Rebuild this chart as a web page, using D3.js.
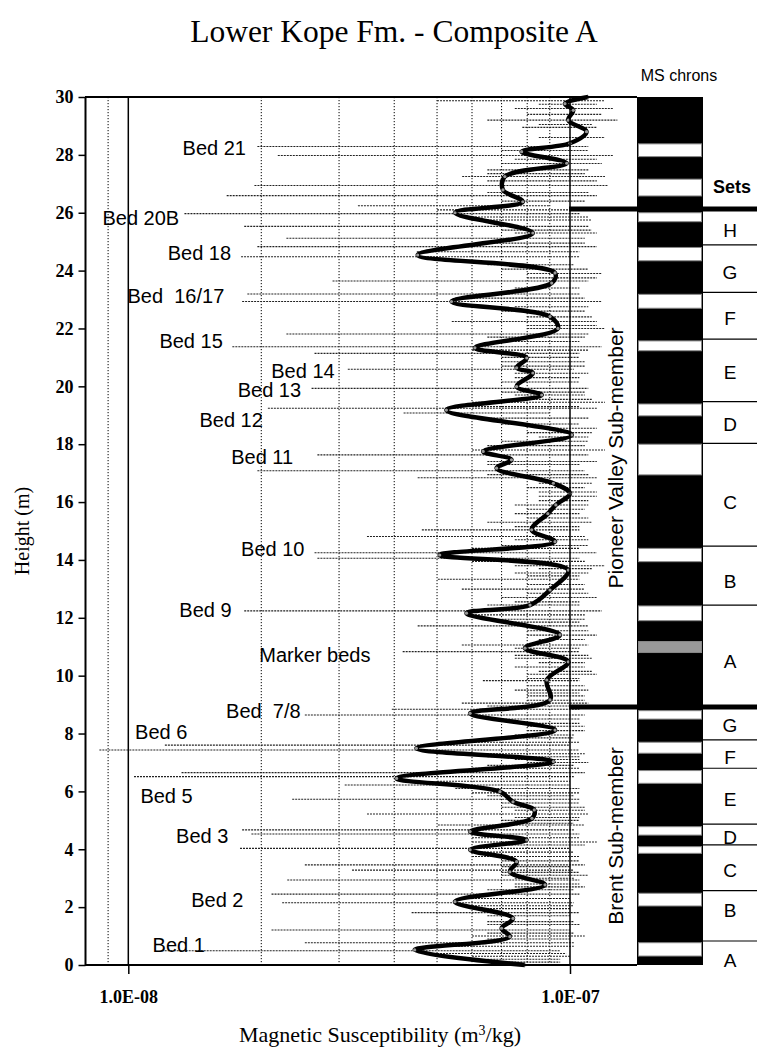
<!DOCTYPE html>
<html>
<head>
<meta charset="utf-8">
<script src="https://cdn.jsdelivr.net/npm/d3@7"></script>
<style>
  body { margin: 0; background: #fff; }
</style>
</head>
<body>
<div id="chart"></div>
<script>
// smoothed MS curve, values in units of 1E-08 m3/kg
const curveHeight = [30.0, 29.77, 29.54, 29.2, 28.8, 28.4, 28.11, 27.71, 27.25, 26.79, 26.38, 26.0, 25.3, 24.54,
  23.92, 23.57, 22.93, 22.41, 22.0, 21.33, 20.98, 20.64, 20.46, 19.99, 19.7, 19.18, 18.32, 17.75, 17.46, 17.17,
  16.65, 16.3, 15.9, 15.6, 15.04, 14.63, 14.17, 13.65, 12.96, 12.44, 12.16, 11.41, 10.95, 10.48, 9.85, 9.16,
  8.70, 8.12, 7.49, 7.03, 6.45, 5.99, 5.64, 5.36, 5.07, 4.61, 4.32, 3.98, 3.57, 3.22, 2.77, 2.19, 1.61, 1.27,
  0.98, 0.52, 0.0];
const curveMS = [11.0, 9.74, 10.17, 9.91, 10.9, 10.0, 7.77, 9.83, 7.12, 7.05, 7.82, 5.49, 8.24, 4.52,
  9.25, 9.09, 5.39, 9.01, 9.39, 6.09, 7.98, 7.57, 8.24, 7.57, 8.63, 5.25, 10.09, 6.36, 7.37, 6.82,
  9.17, 10.0, 9.29, 8.91, 8.19, 9.25, 5.07, 9.91, 9.01, 8.12, 5.83, 9.49, 7.91, 9.91, 8.86, 9.01,
  5.94, 9.25, 4.49, 9.17, 4.05, 6.94, 7.43, 8.3, 8.2, 5.94, 7.98, 5.94, 7.57, 7.31, 8.78, 5.49, 7.43, 7.0,
  7.31, 4.45, 7.91];

// raw measurements: height, lowest and highest reading of each spike (1E-08 m3/kg)
const spikeHeight = [29.87, 29.6, 29.2, 28.95, 28.29, 27.98, 27.7, 27.48, 27.25, 26.94, 26.59, 26.4, 26.24, 25.97,
  25.75, 25.53, 25.3, 25.12, 24.83, 24.48, 24.2, 23.9, 23.64, 23.4, 23.19, 22.93, 22.6, 22.24, 22.0, 21.81,
  21.55, 21.37, 21.14, 20.85, 20.59, 20.3, 19.93, 19.7, 19.45, 19.24, 19.08, 18.7, 18.4, 18.1, 17.8, 17.63,
  17.4, 17.08, 16.84, 16.5, 16.2, 15.9, 15.6, 15.3, 15.04, 14.81, 14.5, 14.25, 14.06, 13.8, 13.55, 13.33,
  12.99, 12.7, 12.44, 12.24, 11.95, 11.72, 11.4, 11.06, 10.83, 10.6, 10.3, 10.05, 9.83, 9.5, 9.3, 9.05,
  8.84, 8.64, 8.35, 8.1, 7.85, 7.6, 7.43, 7.2, 7.0, 6.8, 6.65, 6.51, 6.22, 5.95, 5.73, 5.45, 5.22, 5.0,
  4.84, 4.67, 4.53, 4.25, 4.03, 3.75, 3.46, 3.28, 3.1, 2.94, 2.7, 2.45, 2.15, 1.95, 1.81, 1.5, 1.21, 1.0,
  0.77, 0.49, 0.3, 0.1];
const spikeLow = [5.0, 7.5, 6.5, 7.8, 1.96, 2.18, 7.0, 6.5, 5.7, 1.93, 1.67, 7.0, 3.31, 1.34,
  6.0, 1.83, 7.5, 2.28, 1.96, 1.8, 6.5, 8.0, 2.9, 7.5, 1.86, 1.81, 7.0, 5.4, 8.0, 2.28,
  7.5, 1.72, 2.64, 7.0, 3.14, 7.5, 2.6, 7.5, 6.0, 2.07, 4.2, 7.0, 8.0, 7.0, 6.0, 2.68,
  6.5, 1.96, 4.52, 8.0, 8.5, 7.5, 7.5, 6.5, 4.62, 3.47, 7.0, 2.64, 2.68, 7.5, 7.5, 5.02,
  5.69, 7.0, 6.5, 1.83, 7.0, 4.52, 8.0, 5.69, 4.18, 7.5, 7.5, 8.0, 6.35, 7.5, 8.0, 5.69,
  3.95, 2.51, 7.5, 8.0, 7.0, 1.21, 0.86, 6.5, 8.0, 6.0, 1.32, 1.03, 3.09, 6.0, 2.35, 7.0, 3.47, 7.0,
  5.02, 1.81, 1.9, 6.0, 1.79, 6.0, 2.51, 3.21, 7.0, 2.29, 7.5, 2.11, 2.23, 6.0, 4.38, 6.5, 2.11, 6.0,
  2.51, 1.19, 6.0, 6.5];
const spikeHigh = [12.0, 12.5, 12.8, 11.5, 11.0, 12.5, 11.8, 11.0, 12.0, 12.2, 11.5, 10.8, 9.0, 10.5,
  11.2, 11.0, 11.5, 10.8, 11.5, 10.5, 10.2, 11.8, 11.0, 10.5, 10.5, 11.8, 10.8, 11.5, 12.0, 11.0,
  10.5, 11.8, 10.5, 10.8, 10.2, 10.5, 11.0, 10.8, 12.0, 11.5, 9.0, 10.5, 11.2, 11.0, 12.0, 11.0,
  11.5, 10.8, 11.5, 10.8, 11.5, 11.0, 10.5, 11.2, 10.5, 10.8, 11.0, 11.5, 10.5, 12.0, 11.0, 10.5,
  10.8, 11.5, 10.5, 11.8, 10.8, 11.0, 11.5, 11.0, 10.5, 11.2, 10.8, 11.5, 10.5, 11.0, 10.8, 11.0,
  10.5, 10.8, 10.5, 10.8, 10.2, 10.0, 10.5, 10.5, 11.0, 10.5, 10.8, 10.2, 10.0, 10.5, 10.5, 10.8, 11.0, 10.5,
  10.8, 10.2, 10.5, 11.5, 10.0, 10.5, 10.8, 10.2, 11.0, 10.5, 10.8, 10.5, 10.2, 10.0, 10.5, 10.2, 10.0, 10.8,
  10.2, 9.5, 10.0, 9.5];

// shorter readings packed around the curve: height, low, high (1E-08 m3/kg)
const minorHeight = [29.75, 29.4, 29.05, 28.6, 28.15, 27.85, 27.35, 27.1, 26.7, 26.1, 25.85, 25.4, 24.95, 24.65,
  24.05, 23.75, 23.05, 22.75, 22.4, 22.1, 21.7, 21.25, 21.0, 20.7, 20.45, 20.15, 19.8, 19.55, 19.3, 18.9,
  18.55, 18.25, 17.95, 17.3, 16.95, 16.65, 16.35, 16.05, 15.75, 15.45, 15.15, 14.7, 14.4, 13.95, 13.7, 13.45,
  13.15, 12.85, 12.55, 12.1, 11.85, 11.55, 11.25, 10.95, 10.7, 10.45, 10.15, 9.9, 9.65, 9.4, 9.15, 8.95,
  8.5, 8.25, 7.95, 7.7, 7.3, 7.1, 6.9, 6.35, 6.1, 5.85, 5.6, 5.35, 5.1, 4.9, 4.4, 4.15, 3.9, 3.6, 3.4,
  3.2, 3.0, 2.8, 2.6, 2.3, 2.05, 1.7, 1.4, 1.1, 0.9, 0.65, 0.4, 0.2];
const minorLow = [8.5, 8.0, 8.5, 8.5, 7.0, 7.5, 6.5, 6.5, 6.5, 5.0, 6.0, 7.0, 6.5, 4.5,
  7.0, 8.0, 5.5, 7.5, 8.0, 8.0, 6.5, 6.0, 7.0, 7.0, 7.5, 7.0, 7.0, 7.5, 6.0, 6.5,
  8.5, 8.5, 6.5, 6.5, 6.5, 8.5, 8.5, 8.5, 8.0, 8.0, 7.5, 7.5, 6.0, 6.0, 8.5, 8.0,
  8.0, 8.0, 7.5, 6.0, 7.5, 8.0, 8.5, 7.5, 7.5, 8.5, 8.5, 8.0, 8.0, 8.0, 8.0, 6.5,
  6.5, 8.0, 7.5, 6.0, 6.0, 7.5, 6.5, 5.0, 5.5, 6.5, 7.0, 7.5, 7.5, 7.0, 6.0, 6.5, 6.0, 7.0, 7.0,
  7.0, 7.5, 7.5, 6.5, 6.0, 6.0, 6.5, 6.5, 6.5, 6.5, 5.0, 5.0, 6.5];
const minorHigh = [11.5, 11.8, 11.2, 12.0, 11.0, 11.5, 10.8, 11.5, 11.0, 10.5, 11.0, 11.2, 10.8, 10.5,
  11.0, 11.5, 10.8, 11.0, 11.2, 11.5, 10.8, 11.0, 10.5, 10.8, 11.0, 10.5, 10.8, 11.2, 10.5, 11.0,
  11.5, 11.0, 10.8, 10.5, 11.0, 11.2, 11.5, 11.0, 10.8, 11.0, 10.5, 11.0, 10.5, 10.8, 11.2, 10.5,
  10.8, 11.0, 10.5, 10.8, 10.5, 11.0, 10.8, 10.5, 11.0, 10.8, 11.2, 10.5, 10.8, 10.5, 10.8, 10.5,
  10.5, 10.8, 10.2, 10.5, 10.8, 10.5, 10.2, 10.0, 10.5, 10.2, 10.5, 10.8, 10.5, 10.2, 10.5, 10.8, 10.2, 10.5, 10.0,
  10.5, 10.2, 10.5, 10.2, 10.0, 10.2, 10.0, 10.5, 10.2, 10.0, 10.2, 9.8, 9.5];

// bed annotations: label, height (m), MS value at label start (1E-08)
const bedNames = ["Bed 21", "Bed 20B", "Bed 18", "Bed  16/17", "Bed 15", "Bed 14", "Bed 13", "Bed 12",
  "Bed 11", "Bed 10", "Bed 9", "Marker beds", "Bed  7/8", "Bed 6", "Bed 5", "Bed 3", "Bed 2", "Bed 1"];
const bedHeight = [28.23, 25.81, 24.6, 23.12, 21.55, 20.53, 19.88, 18.84, 17.57, 14.37, 12.27, 10.72,
  8.78, 8.06, 5.85, 4.46, 2.25, 0.69];
const bedMS = [1.327, 0.874, 1.228, 0.996, 1.176, 2.107, 1.769, 1.449, 1.71, 1.8, 1.305, 1.98,
  1.665, 1.036, 1.065, 1.283, 1.388, 1.135];

// MS chron column: white (low) intervals and one grey interval, [top, bottom] in m
const chronWhite = [[28.38, 27.94], [27.16, 26.58], [26.0, 25.69], [24.8, 24.34], [23.18, 22.7],
  [21.57, 21.23], [19.39, 18.98], [18.0, 16.94], [14.4, 13.94], [12.41, 11.9], [8.79, 8.5],
  [7.7, 7.32], [6.72, 6.28], [4.78, 4.49], [4.09, 3.86], [2.48, 2.04], [0.77, 0.31]];
const chronGray = [[11.18, 10.8]];

// sets
const memberBreaks = [26.13, 8.92];
const setBreaks = [24.89, 23.25, 21.63, 19.47, 18.03, 14.48, 12.44, 7.78, 6.8, 4.87, 4.15, 2.57, 0.83];
const setNames = ["H", "G", "F", "E", "D", "C", "B", "A", "G", "F", "E", "D", "C", "B", "A"];
const setHeight = [25.4, 23.95, 22.36, 20.5, 18.7, 16.0, 13.27, 10.5, 8.3, 7.19, 5.74, 4.42, 3.28, 1.9, 0.17];

const heightTicks = [0, 2, 4, 6, 8, 10, 12, 14, 16, 18, 20, 22, 24, 26, 28, 30];
const msTicks = [1e-8, 1e-7];
const msTickLabels = ["1.0E-08", "1.0E-07"];
const msGrid = [0.9e-8, 2e-8, 3e-8, 4e-8, 5e-8, 6e-8, 7e-8, 8e-8, 9e-8];

const width = 757, height = 1053;
const serif = "'Liberation Serif', 'Times New Roman', serif";
const sans = "'Liberation Sans', Arial, Helvetica, sans-serif";

const svg = d3.select("#chart").append("svg")
    .attr("width", width)
    .attr("height", height)
    .style("background", "#fff");

const x = d3.scaleLog().domain([0.8e-8, 1e-7]).range([85.5, 570]);
const y = d3.scaleLinear().domain([0, 30]).range([965, 97]);
const chronX0 = 637, chronX1 = 703;

// title
svg.append("text")
    .attr("x", 394).attr("y", 42)
    .attr("text-anchor", "middle")
    .style("font-family", serif).style("font-size", "31.5px")
    .text("Lower Kope Fm. - Composite A");

svg.append("text")
    .attr("x", 679).attr("y", 81)
    .attr("text-anchor", "middle")
    .style("font-family", sans).style("font-size", "16px")
    .text("MS chrons");

// grid
svg.append("g").selectAll("line")
    .data(msGrid)
    .enter().append("line")
    .attr("x1", d => x(d)).attr("x2", d => x(d))
    .attr("y1", y(30)).attr("y2", y(0))
    .attr("stroke", "#000").attr("stroke-width", 1)
    .attr("stroke-dasharray", "1.2,1.8");

svg.append("line")
    .attr("x1", x(1e-8)).attr("x2", x(1e-8))
    .attr("y1", y(30)).attr("y2", y(0))
    .attr("stroke", "#000").attr("stroke-width", 1.5);

// raw spikes
const spikes = spikeHeight.map((h, i) => ({ h: h, lo: spikeLow[i], hi: spikeHigh[i] }))
    .concat(minorHeight.map((h, i) => ({ h: h, lo: minorLow[i], hi: minorHigh[i] })));

svg.append("g").selectAll("line")
    .data(spikes)
    .enter().append("line")
    .attr("x1", d => x(d.lo * 1e-8)).attr("x2", d => x(d.hi * 1e-8))
    .attr("y1", d => y(d.h)).attr("y2", d => y(d.h))
    .attr("stroke", "#222").attr("stroke-width", 1.1)
    .attr("stroke-dasharray", "2,1");

// smoothed curve
const curveData = curveHeight.map((h, i) => ({ h: h, v: curveMS[i] }));
const line = d3.line()
    .x(d => x(d.v * 1e-8))
    .y(d => y(d.h))
    .curve(d3.curveCatmullRom.alpha(0.5));

svg.append("path")
    .datum(curveData)
    .attr("d", line)
    .attr("fill", "none")
    .attr("stroke", "#000")
    .attr("stroke-width", 4.5)
    .attr("stroke-linejoin", "round");

svg.append("g").selectAll("circle")
    .data(curveData)
    .enter().append("circle")
    .attr("cx", d => x(d.v * 1e-8)).attr("cy", d => y(d.h))
    .attr("r", 1.6)
    .attr("fill", "#999");

// frame
svg.append("line").attr("x1", 85.5).attr("x2", 85.5).attr("y1", y(30)).attr("y2", y(0))
    .attr("stroke", "#000").attr("stroke-width", 2);
svg.append("line").attr("x1", 85).attr("x2", chronX0).attr("y1", y(30)).attr("y2", y(30))
    .attr("stroke", "#000").attr("stroke-width", 2);
svg.append("line").attr("x1", x(1e-7)).attr("x2", x(1e-7)).attr("y1", y(30)).attr("y2", y(0))
    .attr("stroke", "#000").attr("stroke-width", 1.5);

// y axis
const yAxis = svg.append("g")
    .attr("transform", "translate(85.5,0)")
    .call(d3.axisLeft(y).tickValues(heightTicks).tickSize(7).tickPadding(5));
yAxis.select(".domain").remove();
yAxis.selectAll("line").attr("stroke-width", 1.5);
yAxis.selectAll("text")
    .style("font-family", serif).style("font-size", "18px").style("font-weight", "bold");

// x axis
const xAxis = svg.append("g")
    .attr("transform", `translate(0,${y(0)})`)
    .call(d3.axisBottom(x).tickValues(msTicks).tickSize(9).tickPadding(16)
        .tickFormat((d, i) => msTickLabels[i]));
xAxis.select(".domain").remove();
xAxis.selectAll("line").attr("stroke-width", 1.5);
xAxis.selectAll("text")
    .style("font-family", serif).style("font-size", "18px").style("font-weight", "bold");

svg.append("line").attr("x1", 85).attr("x2", chronX0).attr("y1", y(0)).attr("y2", y(0))
    .attr("stroke", "#000").attr("stroke-width", 2);

// axis titles
const xTitle = svg.append("text")
    .attr("x", 380).attr("y", 1042)
    .attr("text-anchor", "middle")
    .style("font-family", serif).style("font-size", "22px");
xTitle.append("tspan").text("Magnetic Susceptibility (m");
xTitle.append("tspan").attr("baseline-shift", "super").style("font-size", "14px").text("3");
xTitle.append("tspan").text("/kg)");

svg.append("text")
    .attr("transform", "translate(29,531) rotate(-90)")
    .attr("text-anchor", "middle")
    .style("font-family", serif).style("font-size", "20px")
    .text("Height (m)");

// bed labels
svg.append("g").selectAll("text")
    .data(bedNames)
    .enter().append("text")
    .attr("x", (d, i) => x(bedMS[i] * 1e-8))
    .attr("y", (d, i) => y(bedHeight[i]))
    .attr("dy", "0.35em")
    .style("white-space", "pre")
    .style("font-family", sans).style("font-size", "20px")
    .text(d => d);

// chron column
svg.append("rect")
    .attr("x", chronX0).attr("y", y(30))
    .attr("width", chronX1 - chronX0).attr("height", y(0) - y(30))
    .attr("fill", "#000");

svg.append("g").selectAll("rect")
    .data(chronWhite)
    .enter().append("rect")
    .attr("x", chronX0 + 1.5).attr("y", d => y(d[0]))
    .attr("width", chronX1 - chronX0 - 3).attr("height", d => y(d[1]) - y(d[0]))
    .attr("fill", "#fff").attr("stroke", "#888").attr("stroke-width", 1);

svg.append("g").selectAll("rect")
    .data(chronGray)
    .enter().append("rect")
    .attr("x", chronX0 + 1.5).attr("y", d => y(d[0]))
    .attr("width", chronX1 - chronX0 - 3).attr("height", d => y(d[1]) - y(d[0]))
    .attr("fill", "#999").attr("stroke", "#888").attr("stroke-width", 1);

// set boundaries
svg.append("g").selectAll("line")
    .data(setBreaks)
    .enter().append("line")
    .attr("x1", chronX1).attr("x2", width)
    .attr("y1", d => y(d)).attr("y2", d => y(d))
    .attr("stroke", "#000").attr("stroke-width", 1.2);

svg.append("g").selectAll("line")
    .data(memberBreaks)
    .enter().append("line")
    .attr("x1", x(1e-7) - 1).attr("x2", width)
    .attr("y1", d => y(d)).attr("y2", d => y(d))
    .attr("stroke", "#000").attr("stroke-width", 5);

svg.append("g").selectAll("text")
    .data(setNames)
    .enter().append("text")
    .attr("x", 730).attr("y", (d, i) => y(setHeight[i]))
    .attr("dy", "0.36em")
    .attr("text-anchor", "middle")
    .style("font-family", sans).style("font-size", "19px")
    .text(d => d);

svg.append("text")
    .attr("x", 732).attr("y", 193)
    .attr("text-anchor", "middle")
    .style("font-family", sans).style("font-size", "18px").style("font-weight", "bold")
    .text("Sets");

// sub-member labels
svg.append("text")
    .attr("transform", `translate(623,${(y(memberBreaks[0]) + y(memberBreaks[1])) / 2}) rotate(-90)`)
    .attr("text-anchor", "middle")
    .style("font-family", sans).style("font-size", "21px")
    .text("Pioneer Valley Sub-member");

svg.append("text")
    .attr("transform", `translate(623,${(y(memberBreaks[1]) + y(0)) / 2}) rotate(-90)`)
    .attr("text-anchor", "middle")
    .style("font-family", sans).style("font-size", "21px")
    .text("Brent Sub-member");
</script>
</body>
</html>
